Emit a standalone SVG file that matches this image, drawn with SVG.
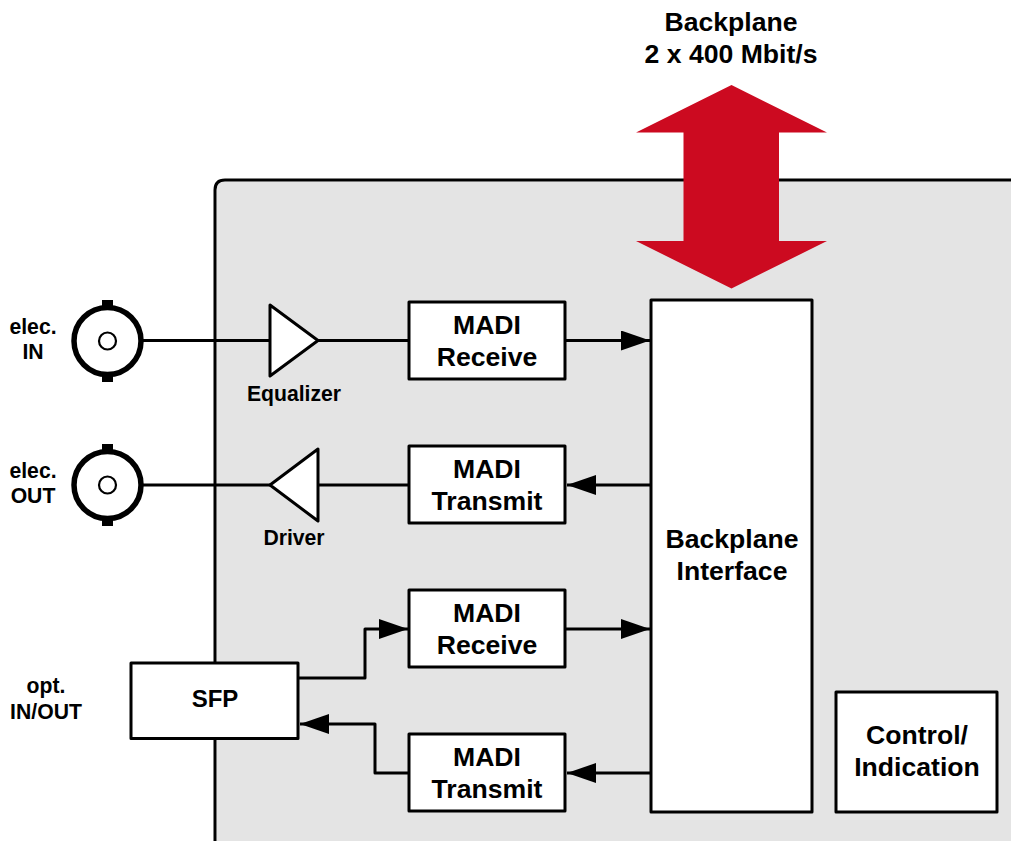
<svg xmlns="http://www.w3.org/2000/svg" width="1011" height="841" viewBox="0 0 1011 841">
<style>
text{font-family:"Liberation Sans",Arial,sans-serif;font-weight:bold;fill:#000;text-anchor:middle}
.b{font-size:26.600px}
.s{font-size:21.200px}
.box{fill:#fff;stroke:#000;stroke-width:3;stroke-linejoin:round}
.line{fill:none;stroke:#000;stroke-width:3;stroke-linejoin:round}
.tri{fill:#fff;stroke:#000;stroke-width:3;stroke-linejoin:round}
.ring{fill:#fff;stroke:#000;stroke-width:5.500}
.pin{fill:#fff;stroke:#000;stroke-width:2.200}
</style>
<defs>
<marker id="arr" markerUnits="userSpaceOnUse" markerWidth="30" markerHeight="22" refX="29" refY="10" orient="auto"><path d="M0,0L29,10L0,20Z" fill="#000"/></marker>
</defs>
<g id="panel"><path d="M1011,181.500H225Q216.500,181.500 216.500,190V841H1011Z" fill="#e4e4e4"/><path d="M1011,180H225Q215,180 215,190V841" fill="none" stroke="#000" stroke-width="3"/></g>
<g id="connectors">
<path class="line" d="M143,340.500H270"/>
<path class="line" d="M318,340.500H409"/>
<path class="line" d="M565,340.500H650" marker-end="url(#arr)"/>
<path class="line" d="M143,485H270"/>
<path class="line" d="M318,485H409"/>
<path class="line" d="M650,485H567" marker-end="url(#arr)"/>
<path class="line" d="M565,629H650" marker-end="url(#arr)"/>
<path class="line" d="M650,773H567" marker-end="url(#arr)"/>
<path class="line" d="M298,678H365V629H408" marker-end="url(#arr)"/>
<path class="line" d="M409,773H375V724H300" marker-end="url(#arr)"/>
</g>
<g id="bnc-in">
<rect x="102" y="300" width="11" height="82" fill="#000"/>
<circle class="ring" cx="107.500" cy="341" r="33.500"/>
<circle class="pin" cx="107.500" cy="341" r="8.500"/>
</g>
<g id="bnc-out">
<rect x="102" y="444" width="11" height="82" fill="#000"/>
<circle class="ring" cx="107.500" cy="485" r="33.500"/>
<circle class="pin" cx="107.500" cy="485" r="8.500"/>
</g>
<g id="label-in"><text class="s" x="33" y="334">elec.</text><text class="s" x="33" y="359">IN</text></g>
<g id="label-out"><text class="s" x="33" y="478">elec.</text><text class="s" x="33" y="503">OUT</text></g>
<g id="label-opt"><text class="s" x="46" y="693">opt.</text><text class="s" x="46" y="719">IN/OUT</text></g>
<g id="equalizer"><path class="tri" d="M270,305L318,340.500L270,376Z"/><text class="s" x="294" y="401">Equalizer</text></g>
<g id="driver"><path class="tri" d="M318,449L270,485L318,521Z"/><text class="s" x="294" y="545">Driver</text></g>
<g id="madi-rx1"><rect class="box" x="409" y="302" width="156" height="77"/><text class="b" x="487" y="334">MADI</text><text class="b" x="487" y="366">Receive</text></g>
<g id="madi-tx1"><rect class="box" x="409" y="446" width="156" height="77"/><text class="b" x="487" y="478">MADI</text><text class="b" x="487" y="510">Transmit</text></g>
<g id="madi-rx2"><rect class="box" x="409" y="590" width="156" height="77"/><text class="b" x="487" y="622">MADI</text><text class="b" x="487" y="654">Receive</text></g>
<g id="madi-tx2"><rect class="box" x="409" y="734" width="156" height="77"/><text class="b" x="487" y="766">MADI</text><text class="b" x="487" y="798">Transmit</text></g>
<g id="sfp"><rect class="box" x="131" y="663" width="167" height="75.500"/><text x="215" y="707" style="font-size:24px">SFP</text></g>
<g id="backplane-if"><rect class="box" x="651" y="300" width="161" height="512"/><text class="b" x="732" y="548">Backplane</text><text class="b" x="732" y="580">Interface</text></g>
<g id="control"><rect class="box" x="836" y="692" width="161" height="120"/><text class="b" x="917" y="744">Control/</text><text class="b" x="917" y="776">Indication</text></g>
<g id="backplane-arrow"><path d="M731.500,85L827,132.500H779V241H827L731.500,288.500L636,241H683.500V132.500H636Z" fill="#cc0a20"/></g>
<g id="backplane-label"><text class="b" x="731" y="31">Backplane</text><text class="b" x="731" y="63">2 x 400 Mbit/s</text></g>
</svg>
